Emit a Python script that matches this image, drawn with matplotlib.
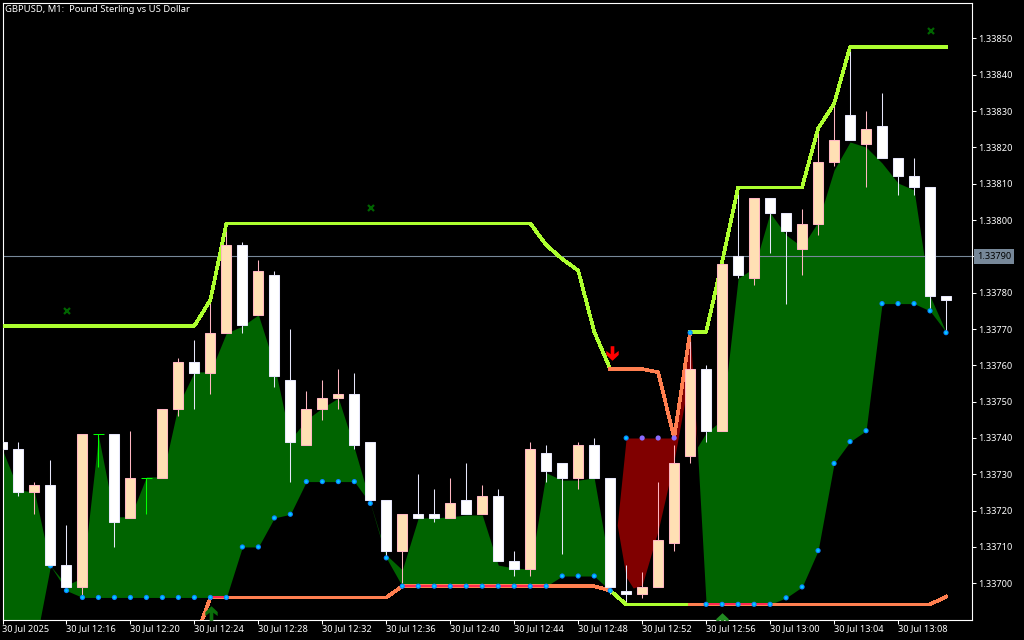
import numpy as np
import matplotlib
matplotlib.use('Agg')
import matplotlib.pyplot as plt
from matplotlib.path import Path

plt.rcParams['font.family'] = ['Noto Sans', 'DejaVu Sans']

# prices as points above 1.33000
opens = [739, 737, 725, 727, 705, 699, 741, 741, 718, 729, 729, 748, 761, 758, 769,
         793, 774, 785, 756, 738, 748, 751, 752, 739, 723, 709, 719, 719, 718, 723,
         719, 724, 706, 704, 736, 733, 729, 738, 729, 698, 697, 699, 711, 735, 759,
         742, 790, 784, 806, 802, 792, 799, 816, 829, 821, 826, 817, 812, 809, 779]
highs = [739, 739, 728, 734, 716, 741, 741, 741, 742, 729, 748, 762, 767, 778, 799,
         794, 789, 786, 770, 753, 756, 759, 758, 739, 723, 719, 730, 726, 729, 733,
         727, 726, 709, 739, 738, 733, 739, 740, 729, 705, 703, 728, 738, 769, 760,
         788, 809, 806, 806, 802, 803, 825, 833, 848, 830, 835, 817, 817, 809, 779]
lows = [737, 724, 719, 705, 698, 696, 732, 710, 718, 719, 729, 746, 748, 752, 769,
        769, 774, 754, 728, 738, 745, 748, 737, 722, 707, 700, 718, 717, 718, 719,
        719, 706, 702, 702, 728, 708, 726, 729, 697, 694, 696, 699, 709, 733, 739,
        742, 784, 782, 791, 777, 785, 796, 815, 822, 809, 817, 807, 807, 775, 769]
closes = [737, 725, 727, 705, 699, 741, 741, 717, 729, 729, 748, 761, 758, 769, 793,
          771, 786, 757, 739, 748, 751, 752, 738, 723, 709, 719, 718, 718, 722, 719,
          724, 706, 704, 737, 731, 729, 738, 729, 699, 697, 699, 712, 733, 759, 742,
          788, 785, 806, 802, 797, 799, 816, 822, 822, 825, 817, 812, 809, 779, 778]

# cloud edges, minute by minute
cloud_top = [736.7, 725.7, 725.1, 704.8, 699.5, 701.5, 740.6, 718.3, 718.3, 729.3,
             729.3, 749.1, 758.2, 758.2, 768.9, 770.8, 773.9, 760.1, 739.5, 745,
             748.3, 751, 737.3, 722.1, 707.8, 703.7, 718, 718, 718.3, 718.8,
             718.8, 705, 704.2, 703.9, 730.4, 728.4, 728.4, 729, 703.7]
cloud_bot = [682, 682, 682, 704.8, 698, 696.1, 696.1, 696.1, 696.1, 696.1,
             696.1, 696.1, 696.1, 696.1, 696.1, 710, 710, 718, 719, 728,
             728, 728, 728, 722, 707, 699.2, 699.2, 699.2, 699.2, 699.2,
             699.2, 699.2, 699.2, 699.2, 699.2, 702, 702, 702, 698]
cloud2_t = [43.45, 44, 45, 46, 47, 48, 49, 50, 51, 52, 53, 54, 55, 56, 57, 58, 59]
cloud2_top = [737.5, 741.4, 745, 784, 786.8, 802, 795.9, 792.6, 799.5, 813.8,
              821.5, 820.1, 815.7, 810.2, 808.3, 779.1, 769.2]
cloud2_bot = [737.5, 694.2, 694.2, 694.2, 694.2, 694.2, 696, 699, 709, 733,
              739, 742, 777, 777, 777, 775, 769.2]
red_t = [38.44, 39, 39.44, 40, 41, 42, 43, 43.45]
red_top = [716, 740, 740, 740, 740, 740, 769, 737.5]
red_bot = [716, 701.7, 698.7, 699.5, 714.6, 733.9, 758.2, 737.5]

# dots under the cloud
dot_t = list(range(3, 60))
dot_y = [704.8, 698, 696.1, 696.1, 696.1, 696.1, 696.1, 696.1, 696.1, 696.1,
         696.1, 696.1, 710, 710, 718, 719, 728, 728, 728, 728,
         722, 707, 699.2, 699.2, 699.2, 699.2, 699.2, 699.2, 699.2, 699.2,
         699.2, 699.2, 702, 702, 702, 698, 740, 740, 740, 740,
         769, 694.2, 694.2, 694.2, 694.2, 694.2, 696, 699, 709, 733,
         739, 742, 777, 777, 777, 775, 769]

# upper and lower channel lines
upper_line = [770.9] * 13 + [778] + [799.1] * 20 + [793.1, 789.3, 786.1, 769.3, 759,
              759, 759, 758.1, 740, 769.2, 769.2, 788.5] + [809] * 5 + [825.2, 832] + [847.7] * 7
lower_line = [684] * 13 + [696.1] * 12 + [699.2] * 13 + [698] + [694.2] * 19 + [694.2, 696.3]

x_marks_t = [4.06, 23.06, 58.06]
x_marks_y = [775, 803.3, 852]

last_price = 790
price_ticks = [700, 710, 720, 730, 740, 750, 760, 770, 780, 790, 800, 810, 820, 830, 840, 850]
time_tick_pos = list(range(0, 60, 4))
time_labels = ['30 Jul 2025', '30 Jul 12:16', '30 Jul 12:20', '30 Jul 12:24', '30 Jul 12:28',
               '30 Jul 12:32', '30 Jul 12:36', '30 Jul 12:40', '30 Jul 12:44', '30 Jul 12:48',
               '30 Jul 12:52', '30 Jul 12:56', '30 Jul 13:00', '30 Jul 13:04', '30 Jul 13:08']


def px(points):
    return 1.33 + np.asarray(points, dtype=float) / 1e5


fig = plt.figure(figsize=(10.24, 6.4), dpi=100, facecolor='black')
ax = fig.add_axes([2.5 / 1024, 20.5 / 640, 969.5 / 1024, 617 / 640], facecolor='black')
ax.set_xlim(0.03, 60.625)
ax.set_ylim(px(690.03), px(859.9))

# cloud
t = np.arange(len(opens))
ax.fill_between(t[:39], px(cloud_top), px(cloud_bot), color='#006400', lw=0, zorder=1, antialiased=False)
ax.fill_between(cloud2_t, px(cloud2_top), px(cloud2_bot), color='#006400', lw=0, zorder=1, antialiased=False)
ax.fill_between(red_t, px(red_top), px(red_bot), color='#800000', lw=0, zorder=1, antialiased=False)

ax.axhline(px(last_price), color='#778899', lw=0.8, zorder=1.5)

# wicks
o, h, l, c = map(np.array, (opens, highs, lows, closes))
up = c > o
down = c < o
flat = c == o
ax.vlines(t[up], px(l[up]), px(h[up]), color='#FFB6C1', lw=0.75, zorder=2)
ax.vlines(t[down], px(l[down]), px(h[down]), color='#E6E6FA', lw=0.75, zorder=2)
ax.vlines(t[flat], px(l[flat]), px(h[flat]), color='#00FF00', lw=0.75, zorder=2)

# channel lines, colour changes at the flips
line_w = 1.9
ax.plot(t[:39], px(upper_line[:39]), color='#ADFF2F', lw=line_w, zorder=3, antialiased=False)
ax.plot(t[38:44], px(upper_line[38:44]), color='#FF7F50', lw=line_w, zorder=3, antialiased=False)
ax.plot(t[43:], px(upper_line[43:]), color='#ADFF2F', lw=line_w, zorder=3, antialiased=False)
ax.plot(t[12:39], px(lower_line[12:39]), color='#FF7F50', lw=line_w, zorder=3, antialiased=False)
ax.plot(t[38:44], px(lower_line[38:44]), color='#ADFF2F', lw=line_w, zorder=3, antialiased=False)
ax.plot(t[43:], px(lower_line[43:]), color='#FF7F50', lw=line_w, zorder=3, antialiased=False)
for a, b in [(13, 15), (25, 35), (44, 49)]:
    ax.plot(t[a:b], px(lower_line[a:b]), color='#FF2850', lw=1.4, zorder=3.1, antialiased=False)

# dots
dot_colors = ['#8A6CFF' if 40 <= k <= 42 else '#0A84FF' for k in dot_t]
core_colors = ['#8A6CFF' if 40 <= k <= 42 else '#00D0FF' for k in dot_t]
ax.scatter(dot_t, px(dot_y), s=14, c=dot_colors, edgecolors='none', zorder=4)
ax.scatter(dot_t, px(dot_y), s=4, c=core_colors, edgecolors='none', zorder=4.1)

# bodies
bottoms = px(np.minimum(o, c))
heights = px(np.maximum(o, c)) - bottoms
ax.bar(t[up], heights[up], 0.625, bottoms[up], color='#FFE0B4', edgecolor='#FFB6C1', lw=0.75, zorder=5)
ax.bar(t[down], heights[down], 0.625, bottoms[down], color='white', edgecolor='#E6E6FA', lw=0.75, zorder=5)
ax.hlines(px(c[flat]), t[flat] - 0.33, t[flat] + 0.33, color='#00FF00', lw=0.75, zorder=5)

# signal arrows
arrow = Path([(-0.25, 1), (0.25, 1), (0.25, -0.1), (0.85, 0.35), (0.85, -0.2),
              (0, -1), (-0.85, -0.2), (-0.85, 0.35), (-0.25, -0.1), (-0.25, 1)])
arrow_up = Path(arrow.vertices * [1, -1])
ax.plot([38.1], [px(763.4)], marker=arrow, ms=10.5, color='#FF0000', mew=0, ls='none', zorder=6)
ax.plot([13.05], [px(691.7)], marker=arrow_up, ms=10.5, color='#0A6E0A', mew=0, ls='none', zorder=6)
ax.plot([45], [px(690)], marker=arrow_up, ms=10.5, color='#228B22', mew=0, ls='none', zorder=6)
ax.plot(x_marks_t, px(x_marks_y), 'x', color='#006400', ms=4.5, mew=1.6, zorder=6)

# axes styling
for s in ax.spines.values():
    s.set_color('white')
    s.set_linewidth(0.8)
ax.yaxis.tick_right()
ax.set_yticks(px(price_ticks))
ax.set_yticklabels(['%.5f' % p for p in px(price_ticks)])
ax.set_xticks(time_tick_pos)
ax.set_xticklabels(time_labels, ha='left')
ax.tick_params(axis='y', colors='white', labelsize=6.6, length=3, width=0.75, pad=1.5)
ax.tick_params(axis='x', colors='white', labelsize=6.6, length=3, width=0.75, pad=0)

ax.text(2.5 / 969.5, 1 - 7 / 617, 'GBPUSD, M1:  Pound Sterling vs US Dollar', transform=ax.transAxes,
        color='white', fontsize=6.8, ha='left', va='center', zorder=7)

# current price tag on the axis
ax.annotate('%.5f' % px(last_price), xy=(1, px(last_price)), xycoords=('axes fraction', 'data'),
            xytext=(3.6, 0), textcoords='offset points', color='black', fontsize=6.6, va='center',
            annotation_clip=False, zorder=8,
            bbox=dict(boxstyle='square,pad=0.3', fc='#778899', ec='none'))

fig.savefig('out.png', dpi=100, facecolor='black')
